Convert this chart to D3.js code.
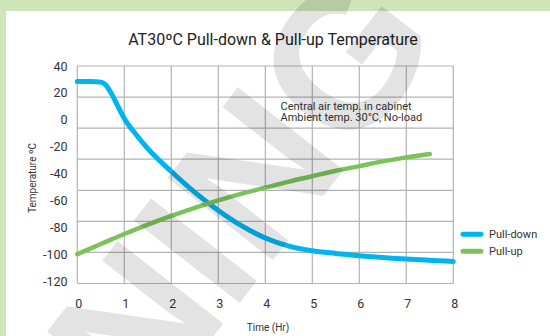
<!DOCTYPE html>
<html><head><meta charset="utf-8">
<script src="https://cdn.jsdelivr.net/npm/d3@7"></script>
<style>html,body{margin:0;padding:0;background:#fff;}svg{display:block;}</style>
</head><body>
<svg id="c" width="550" height="336"></svg>
<script>
const title = "AT30ºC Pull-down & Pull-up Temperature";
const xTicks = [0,1,2,3,4,5,6,7,8];
const yTicks = [40,20,0,-20,-40,-60,-80,-100,-120];
const pullDownT = [0,0.3,0.5,0.6,0.7,0.85,1.0,1.25,1.5,2.0,2.5,3.0,3.5,4.0,4.5,5.0,5.5,6.0,7.0,8.0];
const pullDownV = [28.5,28.5,28,26,21,11,1,-11,-21.5,-38.5,-54,-67.5,-79,-88,-94,-97.5,-99.5,-101.2,-103.7,-105.5];
const pullUpT = [0,0.5,1,1.5,2,2.5,3,3.5,4,4.5,5,5.5,6,6.5,7,7.5];
const pullUpV = [-100,-92.5,-85,-78,-71.5,-65.5,-60,-55,-50.5,-46,-42,-38,-34.5,-31,-28,-25.5];
const seriesNames = ["Pull-down","Pull-up"];
const colors = ["#00b4ef","#7cc25a"];
const note = ["Central air temp. in cabinet","Ambient temp. 30°C, No-load"];

const svg = d3.select("#c");
const font = "Roboto, 'DejaVu Sans', sans-serif";
svg.append("rect").attr("x",0).attr("y",0).attr("width",550).attr("height",336).attr("fill","#cde5b9");
svg.append("rect").attr("x",6).attr("y",11).attr("width",544).attr("height",325).attr("fill","#fff");

const x = d3.scaleLinear().domain([0,8]).range([77.3,453.3]);
const y = d3.scaleLinear().domain([-120,40]).range([281,66]);
const gy = d3.scaleLinear().domain([0,7]).range([66,283.5]);
const grid = svg.append("g").attr("stroke","#b3b3b3").attr("stroke-width",1.2);
grid.selectAll("line.h").data(d3.range(8)).join("line").attr("class","h")
  .attr("x1",x(0)).attr("x2",x(8)).attr("y1",d=>gy(d)).attr("y2",d=>gy(d));
grid.selectAll("line.v").data(xTicks).join("line").attr("class","v")
  .attr("x1",d=>x(d)).attr("x2",d=>x(d)).attr("y1",gy(0)).attr("y2",gy(7));

svg.append("g").selectAll("text").data(yTicks).join("text")
  .attr("x",67.5).attr("y",d=>y(d)).attr("dy","0.36em").attr("text-anchor","end")
  .attr("font-family",font).attr("font-size",12.5).attr("fill","#333").text(d=>d);
svg.append("g").selectAll("text").data(xTicks).join("text")
  .attr("x",d=>x(d)+1.5).attr("y",303).attr("dy","0.36em").attr("text-anchor","middle")
  .attr("font-family",font).attr("font-size",12.5).attr("fill","#333").text(d=>d);

svg.append("text").attr("x",273).attr("y",44.5).attr("text-anchor","middle")
  .attr("font-family",font).attr("font-size",16).attr("fill","#222").text(title);
svg.append("text").attr("x",268).attr("y",331).attr("text-anchor","middle")
  .attr("font-family",font).attr("font-size",10).attr("fill","#333").text("Time (Hr)");
svg.append("text").attr("transform","translate(36,178) rotate(-90)").attr("text-anchor","middle")
  .attr("font-family",font).attr("font-size",10).attr("fill","#333").text("Temperature ºC");
svg.append("g").selectAll("text").data(note).join("text")
  .attr("x",280.5).attr("y",(d,i)=>110+i*11).attr("font-family",font).attr("font-size",11)
  .attr("fill","#333").text(d=>d);

const line = d3.line().x(d=>x(d[0])).y(d=>y(d[1])).curve(d3.curveMonotoneX);
const series = [d3.zip(pullDownT,pullDownV), d3.zip(pullUpT,pullUpV)];
svg.append("g").selectAll("path").data(series).join("path")
  .attr("d",line).attr("fill","none").attr("stroke",(d,i)=>colors[i])
  .attr("stroke-width",(d,i)=>i===0?5:4.5).attr("stroke-linecap","round").attr("stroke-linejoin","round");

const leg = svg.append("g").selectAll("g").data(seriesNames).join("g")
  .attr("transform",(d,i)=>`translate(0,${234.3+i*17})`);
leg.append("line").attr("x1",463).attr("x2",481).attr("stroke",(d,i)=>colors[i])
  .attr("stroke-width",5).attr("stroke-linecap","round");
leg.append("text").attr("x",489).attr("dy","0.36em").attr("font-family",font).attr("font-size",11)
  .attr("fill","#333").text(d=>d);

// watermark
svg.append("text").attr("transform","translate(445,40) rotate(-52)").attr("text-anchor","end")
  .attr("font-family","'Liberation Sans', Arial, sans-serif").attr("font-weight","bold")
  .attr("font-size",195).attr("fill","#000").attr("fill-opacity",0.11).text("WARNING");
</script>
</body></html>
